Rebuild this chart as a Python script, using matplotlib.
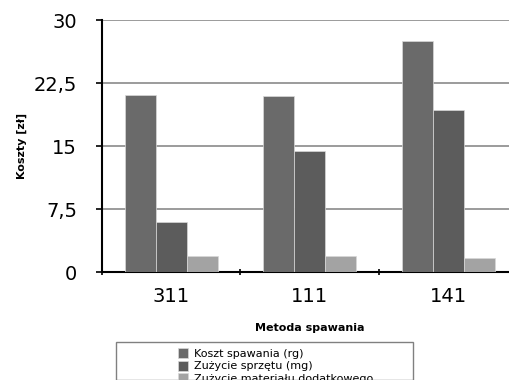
import matplotlib.pyplot as plt
import matplotlib.patches as mpatches
import numpy as np

metody = ['311', '111', '141']
serie = ['Koszt spawania (rg)', 'Zużycie sprzętu (mg)', 'Zużycie materiału dodatkowego']
koszt_spawania = [21.1, 20.9, 27.5]
zuzycie_sprzetu = [6.0, 14.4, 19.25]
zuzycie_materialu = [1.9, 1.9, 1.7]
kolory = ['#6a6a6a', '#5c5c5c', '#a3a3a3']
yticks = [0, 7.5, 15, 22.5, 30]
yticklabels = ['0', '7,5', '15', '22,5', '30']

fig = plt.figure(figsize=(5.1, 3.8), dpi=100)
ax = fig.add_axes([0.2, 0.2842, 0.8147, 0.663])

x = np.arange(len(metody))
w = 0.224
for i, (vals, lab) in enumerate(zip([koszt_spawania, zuzycie_sprzetu, zuzycie_materialu], serie)):
    ax.bar(x + (i - 1) * w, vals, width=w, color=kolory[i], edgecolor='#d8d8d8',
           linewidth=0.5, label=lab, zorder=3)

ax.set_xlim(-0.5, 2.5)
ax.set_ylim(0, 30)
ax.set_yticks(yticks)
ax.set_yticklabels(yticklabels, fontsize=14)
ax.yaxis.grid(True, color='#8a8a8a', linewidth=1.2, zorder=0)

ax.set_xticks([-0.5, 0.5, 1.5, 2.5])
ax.set_xticklabels([])
ax.set_xticks(x, minor=True)
ax.set_xticklabels(metody, minor=True, fontsize=14)
ax.tick_params(axis='x', which='minor', length=0, pad=11)
ax.tick_params(axis='x', which='major', length=5, width=1.2, direction='inout')
ax.tick_params(axis='y', length=4, width=1.2, direction='out', pad=14)

for s in ['top', 'right']:
    ax.spines[s].set_visible(False)
for s in ['left', 'bottom']:
    ax.spines[s].set_linewidth(1.5)

ax.set_ylabel('Koszty [zł]', fontsize=8, fontweight='bold', labelpad=5)
ax.set_xlabel('Metoda spawania', fontsize=8, fontweight='bold', labelpad=12)

handles, labels = ax.get_legend_handles_labels()
fig.legend(handles, labels, loc='upper left', bbox_to_anchor=(170 / 510, 1 - 340 / 380),
           frameon=False, fontsize=8, labelspacing=0.18, handlelength=0.9,
           handleheight=1.0, handletextpad=0.6, borderpad=0.2)
fig.patches.append(mpatches.Rectangle((116 / 510, 0), 297 / 510, (380 - 342) / 380,
                                      transform=fig.transFigure, fill=False,
                                      edgecolor='#808080', linewidth=1))

fig.savefig('out.png', dpi=100)
